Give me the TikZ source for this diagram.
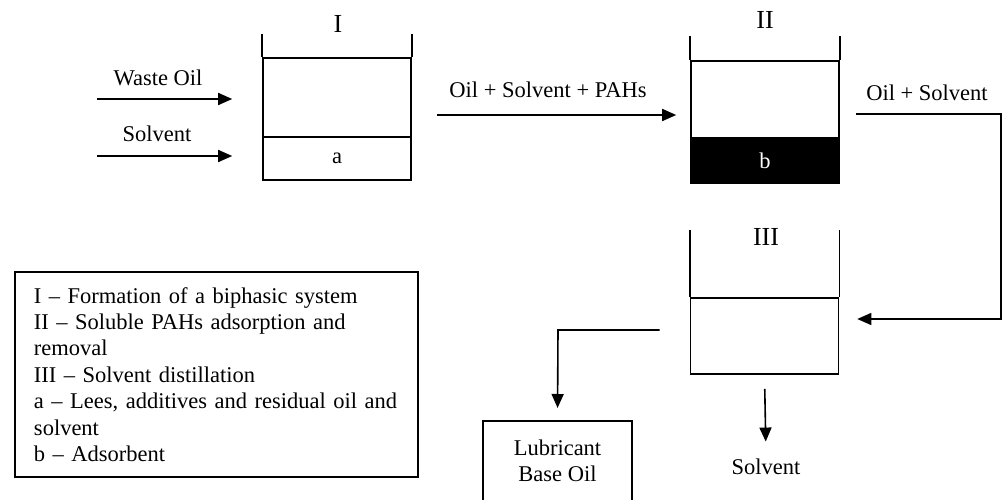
\documentclass[tikz,border=0pt]{standalone}
\usepackage{fontspec}
\setmainfont{Liberation Serif}
\usetikzlibrary{arrows.meta,positioning,calc}

\begin{document}
\begin{tikzpicture}[x=1pt,y=-1pt,font=\fontsize{22.5}{26.4}\selectfont,
    layer/.style={draw,line width=1.6pt,minimum width=148pt,inner sep=0pt},
    tag/.style={font=\fontsize{26}{30}\selectfont},
    wall/.style={line width=1.6pt},
    flow/.style={-{Triangle[length=14pt,width=12pt]},line width=1.6pt}]
  \clip (0,0) rectangle (1002,500);

  % vessels
  \node[layer,minimum height=79pt] (top1) at (337,97.5) {};
  \node[layer,minimum height=43pt] (a)    at (337,158.5) {a};
  \node[layer,minimum height=77pt] (top2) at (765,99.5) {};
  \node[layer,minimum height=45pt,fill=black,text=white] (b) at (765,160.5) {b};
  \node[layer,minimum height=76pt] (top3) at (764.5,336) {};
  \foreach \v/\h in {top1/23,top2/24,top3/67} {
    \draw[wall] (\v.north west) -- ++(0,-\h);
    \draw[wall] (\v.north east) -- ++(0,-\h);
  }
  \node[tag] (n1) at (338,24)  {I};
  \node[tag] (n2) at (765,20)  {II};
  \node[tag] (n3) at (766,237) {III};

  % feeds into I
  \coordinate (wo) at (97,99);
  \coordinate (sv) at (97,156);
  \draw[flow,shorten >=30pt] (wo) -- (wo -| top1.west);
  \draw[flow,shorten >=30pt] (sv) -- (sv -| a.west);
  \node (lwo) at (158,78)  {Waste Oil};
  \node (lsv) at (157,134) {Solvent};

  % I to II to III
  \coordinate (m1) at (437,115);
  \draw[flow,shorten >=14pt] (m1) -- (m1 -| top2.west);
  \node (lm1) at (548,90) {Oil + Solvent + PAHs};
  \coordinate (r1) at (1001,114);
  \coordinate (r2) at (1001,319);
  \draw[flow,shorten <=16pt,shorten >=18pt] (r1 -| top2.east) -- (r1) -- (r2) -- (r2 -| top3.east);
  \node (lm2) at (927,93) {Oil + Solvent};

  % products of III
  \node[draw,line width=1.6pt,minimum width=149pt,minimum height=80pt,align=center,
        anchor=north,inner sep=0pt] (lbo) at (557.5,420) {Lubricant\\Base Oil};
  \coordinate (lb) at (558,330);
  \draw[flow,shorten <=30pt,shorten >=12pt] (lb -| top3.west) -- (lb) -- (lbo.north);
  \node (sout) at (766,467) {Solvent};
  \draw[flow,shorten <=14pt,shorten >=14pt] (top3.south) -- (sout.north);

  % key
  \node[draw,line width=1.6pt,minimum width=403pt,minimum height=205pt,
        text width=365pt,inner xsep=19pt,align=left] (key) at (216.5,374.5)
       {I -- Formation of a biphasic system\\
        II -- Soluble PAHs adsorption and\\removal\\
        III -- Solvent distillation\\
        a -- Lees, additives and residual oil and\\solvent\\
        b -- Adsorbent};
\end{tikzpicture}
\end{document}
